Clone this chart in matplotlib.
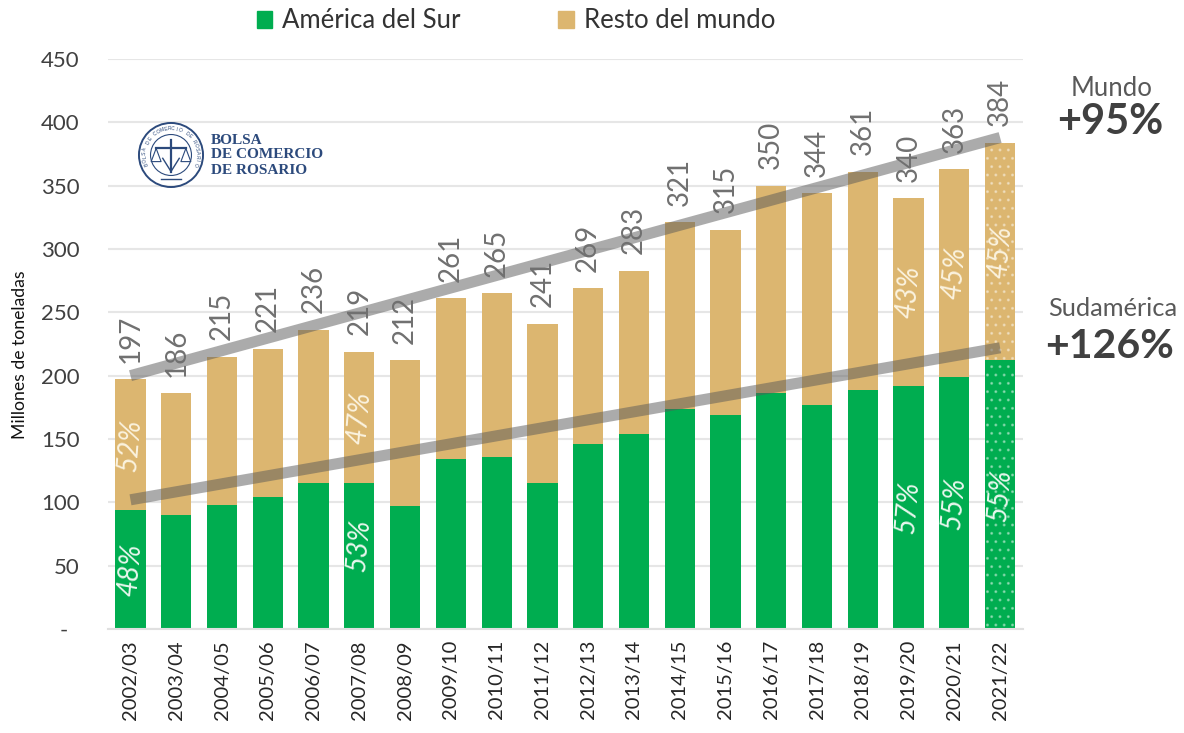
import numpy as np
import matplotlib
matplotlib.use('Agg')
import matplotlib.pyplot as plt
from matplotlib.patches import Circle, Patch

plt.rcParams['font.family'] = ['Lato', 'DejaVu Sans']
plt.rcParams['hatch.linewidth'] = 1.0

# datos
campanas = ['2002/03', '2003/04', '2004/05', '2005/06', '2006/07', '2007/08', '2008/09',
            '2009/10', '2010/11', '2011/12', '2012/13', '2013/14', '2014/15', '2015/16',
            '2016/17', '2017/18', '2018/19', '2019/20', '2020/21', '2021/22']
total = [197, 186, 215, 221, 236, 219, 212, 261, 265, 241, 269, 283, 321, 315, 350, 344, 361, 340, 363, 384]
sudamerica = [94, 90, 98, 104, 115, 115, 97, 134, 136, 115, 146, 154, 174, 169, 186, 177, 189, 192, 199, 212]
yticks = [0, 50, 100, 150, 200, 250, 300, 350, 400, 450]
ylabels = ['-  ', '50', '100', '150', '200', '250', '300', '350', '400', '450']

# participacion: indice de campana, % Sudamerica, % resto
pct_idx = [0, 5, 17, 18, 19]
pct_sur = ['48%', '53%', '57%', '55%', '55%']
pct_resto = ['52%', '47%', '43%', '45%', '45%']

# tendencias: (campana inicial, valor), (campana final, valor)
tend_x = [0, 19]
tend_mundo = [200, 388]
tend_sur = [102, 222]

VERDE = '#00ad50'
ARENA = '#dcb670'
W, H = 1184, 733

fig = plt.figure(figsize=(W / 100, H / 100), dpi=100)
ax = fig.add_axes([107.6 / W, 1 - 629 / H, (1023 - 107.6) / W, (629 - 59) / H])

x = np.arange(len(campanas))
resto = [t - s for t, s in zip(total, sudamerica)]

ax.bar(x[:-1], sudamerica[:-1], width=0.66, color=VERDE, zorder=2)
ax.bar(x[:-1], resto[:-1], width=0.66, bottom=sudamerica[:-1], color=ARENA, zorder=2)
# ultima campana es estimacion, va punteada
ax.bar(x[-1:], sudamerica[-1:], width=0.66, facecolor=VERDE, edgecolor=(1, 1, 1, 0.35),
       hatch='..', linewidth=0, zorder=2)
ax.bar(x[-1:], resto[-1:], width=0.66, bottom=sudamerica[-1:], facecolor=ARENA,
       edgecolor=(1, 1, 1, 0.35), hatch='..', linewidth=0, zorder=2)

ax.plot(tend_x, tend_mundo, color='#595959', alpha=0.5, linewidth=8, solid_capstyle='butt', zorder=3)
ax.plot(tend_x, tend_sur, color='#595959', alpha=0.5, linewidth=8, solid_capstyle='butt', zorder=3)

for i, t in enumerate(total):
    ax.annotate(str(t), (i, t), xytext=(0, 12), textcoords='offset points', rotation=90,
                ha='center', va='bottom', fontsize=20, color='#707070', zorder=4)

for i, ps, pr in zip(pct_idx, pct_sur, pct_resto):
    # el 53% esta un poco mas arriba que el centro de la barra
    dy = 8 if i == 5 else 0
    ax.annotate(ps, (i, sudamerica[i] / 2), xytext=(0, dy), textcoords='offset points', rotation=85,
                ha='center', va='center', fontsize=20, style='italic', color='#e9f7ee', zorder=4)
    ax.text(i, sudamerica[i] + resto[i] / 2, pr, rotation=85, ha='center', va='center', fontsize=20,
            style='italic', color='#fbf3df', zorder=4)

ax.set_xlim(-0.5, 19.5)
ax.set_ylim(0, 450)
ax.set_xticks(x)
ax.set_xticklabels(campanas, rotation=90, fontsize=14.5, color='#262626')
ax.set_yticks(yticks)
ax.set_yticklabels(ylabels, fontsize=16, color='#404040')
ax.tick_params(axis='both', length=0)
ax.tick_params(axis='y', pad=20)
ax.tick_params(axis='x', pad=8)
ax.grid(True, axis='y', color='#e6e6e6', linewidth=1.5, zorder=0)
ax.set_axisbelow(True)
for s in ['top', 'right', 'left']:
    ax.spines[s].set_visible(False)
ax.spines['bottom'].set_color('#e0e0e0')
ax.spines['bottom'].set_linewidth(1.5)

fig.text(20 / W, 1 - 355 / H, 'Millones de toneladas', rotation=90, ha='center', va='center',
         fontsize=12.7, color='#111111')

# leyenda
handles = [Patch(color=VERDE, label='América del Sur'), Patch(color=ARENA, label='Resto del mundo')]
fig.legend(handles=handles, loc='center', bbox_to_anchor=(516 / W, 1 - 21 / H), ncol=2, frameon=False,
           fontsize=18.5, handlelength=0.62, handleheight=0.62, handletextpad=0.38, columnspacing=3.8,
           labelcolor='#333333')

# textos derecha
fig.text(1112 / W, 1 - 88 / H, 'Mundo', ha='center', va='center', fontsize=18.5, color='#595959')
fig.text(1110 / W, 1 - 122 / H, '+95%', ha='center', va='center', fontsize=30, fontweight='bold', color='#404040')
fig.text(1113 / W, 1 - 308 / H, 'Sudamérica', ha='center', va='center', fontsize=18.3, color='#595959')
fig.text(1110 / W, 1 - 346 / H, '+126%', ha='center', va='center', fontsize=29.5, fontweight='bold', color='#404040')

# logo
AZUL = '#2c4a7c'
lg = fig.add_axes([136 / W, 1 - 190 / H, 70 / W, 70 / H])
lg.set_xlim(-1.06, 1.06)
lg.set_ylim(-1.06, 1.06)
lg.axis('off')
lg.add_patch(Circle((0, 0), 0.97, fill=False, edgecolor=AZUL, linewidth=1.4))
lg.add_patch(Circle((0, 0), 0.62, fill=False, edgecolor=AZUL, linewidth=0.8))
anillo = 'BOLSA DE COMERCIO DE ROSARIO'
for k, c in enumerate(anillo):
    ang = np.radians(200 - k * 220 / (len(anillo) - 1))
    lg.text(0.8 * np.cos(ang), 0.8 * np.sin(ang), c, fontsize=3.6, color=AZUL, ha='center', va='center',
            rotation=np.degrees(ang) - 90, family='Liberation Sans')
lg.plot([-0.45, 0.45], [0.2, 0.2], color=AZUL, linewidth=1.6)
lg.plot([0, 0], [-0.5, 0.45], color=AZUL, linewidth=1.6)
lg.plot([-0.45, -0.6, -0.3, -0.45], [0.2, -0.2, -0.2, 0.2], color=AZUL, linewidth=0.8)
lg.plot([0.45, 0.6, 0.3, 0.45], [0.2, -0.2, -0.2, 0.2], color=AZUL, linewidth=0.8)
lg.plot([-0.25, 0, 0.25], [-0.1, -0.5, -0.1], color=AZUL, linewidth=1.0)
lg.plot([-0.3, 0.3], [-0.72, -0.72], color=AZUL, linewidth=1.0)

for texto, yy in zip(['BOLSA', 'DE COMERCIO', 'DE ROSARIO'], [140, 155, 170]):
    fig.text(211 / W, 1 - yy / H, texto, ha='left', va='center', fontsize=11,
             family='Liberation Serif', fontweight='bold', color=AZUL)

fig.savefig('out.png', dpi=100)
